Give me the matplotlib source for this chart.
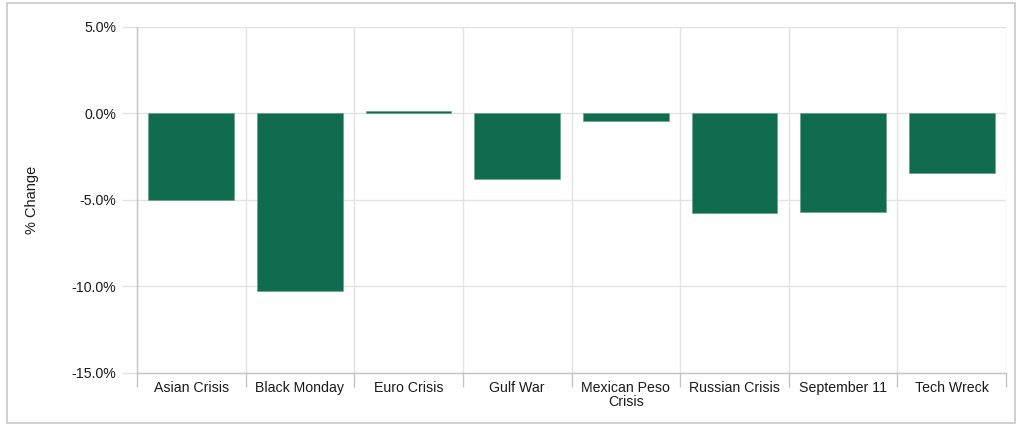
import numpy as np
import matplotlib.pyplot as plt
from matplotlib.patches import Rectangle
from matplotlib.ticker import FixedLocator, FuncFormatter

plt.rcParams['font.family'] = ['Liberation Sans', 'DejaVu Sans']

# ---- Data ----
events = ["Asian Crisis", "Black Monday", "Euro Crisis", "Gulf War",
          "Mexican Peso\nCrisis", "Russian Crisis", "September 11", "Tech Wreck"]
pct_change = [-5.0, -10.25, 0.15, -3.8, -0.45, -5.75, -5.7, -3.45]
y_ticks = [5.0, 0.0, -5.0, -10.0, -15.0]

barGreen = "#106B4F"
gridGray = "#e3e3e3"
axisGray = "#c4c4c4"
textColor = "#1a1a1a"

fig = plt.figure(figsize=(10.21, 4.25), dpi=100)
ax = fig.add_axes([0.1342, 0.1224, 0.8511, 0.8141])

x = np.arange(len(events))
ax.bar(x, pct_change, width=0.79, color=barGreen, edgecolor="#5fa08a", linewidth=0.4, zorder=3)

ax.set_xlim(-0.5, len(events) - 0.5)
ax.set_ylim(-15, 5)

# y axis
ax.set_yticks(y_ticks)
ax.yaxis.set_major_formatter(FuncFormatter(lambda v, p: f"{v:.1f}%"))
ax.tick_params(axis="y", length=11, width=1, color=gridGray, labelsize=10.2,
               labelcolor=textColor, pad=4)
ax.grid(axis="y", color=gridGray, lw=1, zorder=0)

# x axis: labels at centres, ticks/grid at boundaries
ax.set_xticks(x)
ax.set_xticklabels(events, fontsize=10.2, linespacing=1.0, color=textColor)
ax.tick_params(axis="x", which="major", length=0, pad=6)
ax.xaxis.set_minor_locator(FixedLocator(np.arange(len(events) + 1) - 0.5))
ax.tick_params(axis="x", which="minor", length=10, width=1, color=axisGray)
ax.grid(axis="x", which="minor", color=gridGray, lw=1, zorder=0)

for side in ["top", "right"]:
    ax.spines[side].set_visible(False)
for side in ["left", "bottom"]:
    ax.spines[side].set_color(axisGray)
    ax.spines[side].set_linewidth(1)

# y label placed where the reference has it
fig.text(32 / 1021, 1 - 200 / 425, "% Change", rotation=90, ha="center", va="center",
         fontsize=10.5, color=textColor)

# outer border
fig.patches.append(Rectangle((7 / 1021, 2 / 425), 1008 / 1021, 420 / 425,
                             transform=fig.transFigure, fill=False,
                             edgecolor="#c8c8c8", lw=1.2))

fig.savefig("out.png", dpi=100)
